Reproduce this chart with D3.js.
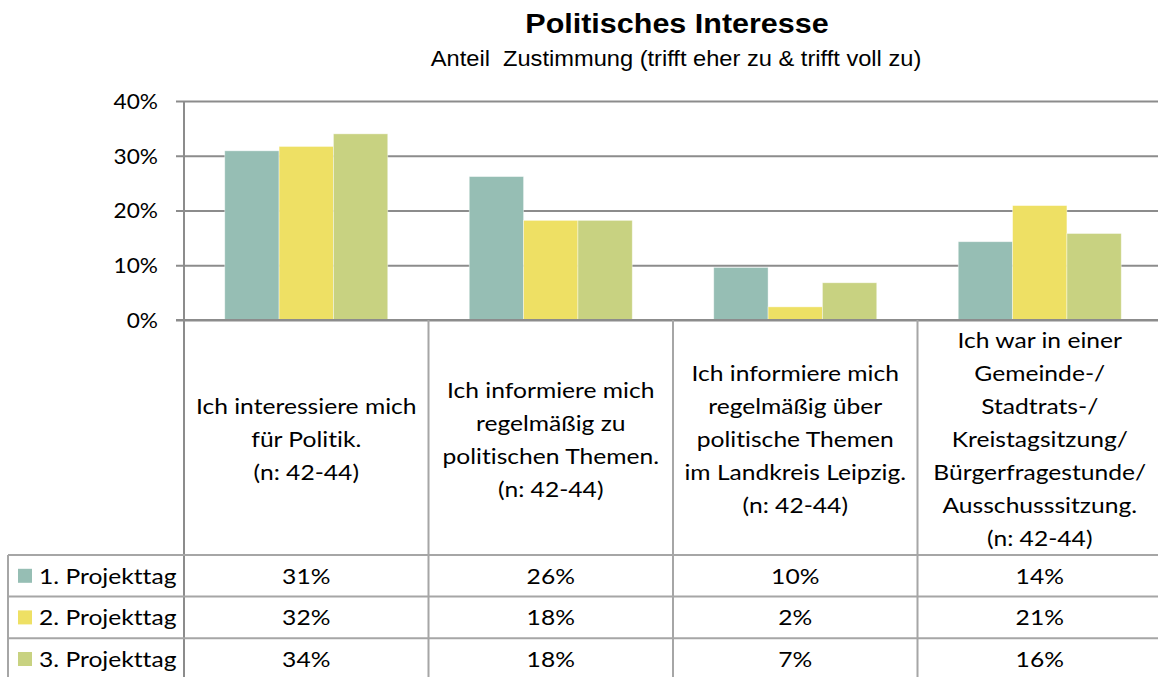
<!DOCTYPE html>
<html>
<head>
<meta charset="utf-8">
<script src="https://cdn.jsdelivr.net/npm/d3@7"></script>
<style>
  body { margin: 0; background: #fff; }
  svg { display: block; }
  text { font-variant-ligatures: none; }
  .cell { font-family: Lato, "Open Sans", sans-serif; font-size: 22px; fill: #000; }
  .tick text { font-family: Lato, "Open Sans", sans-serif; font-size: 21px; fill: #000; }
</style>
</head>
<body>
<div class="chart"></div>
<script>
var categories = [
      ["Ich interessiere mich", "für Politik.", "(n: 42-44)"],
      ["Ich informiere mich", "regelmäßig zu", "politischen Themen.", "(n: 42-44)"],
      ["Ich informiere mich", "regelmäßig über", "politische Themen", "im Landkreis Leipzig.", "(n: 42-44)"],
      ["Ich war in einer", "Gemeinde-/", "Stadtrats-/", "Kreistagsitzung/", "Bürgerfragestunde/", "Ausschusssitzung.", "(n: 42-44)"]
    ],
    seriesNames = ["1. Projekttag", "2. Projekttag", "3. Projekttag"],
    day1 = [0.309, 0.262, 0.096, 0.143],
    day2 = [0.317, 0.182, 0.024, 0.209],
    day3 = [0.340, 0.182, 0.068, 0.158],
    yTicks = [0, 0.1, 0.2, 0.3, 0.4];

var seriesValues = [day1, day2, day3];

var outerWidth = 1158,
    outerHeight = 677,
    plot = {left: 184, right: 1162, top: 101, bottom: 320},
    tableLeft = 8,
    headerBottom = 555,
    rowHeight = 41.6,
    sx = 1.12,   // the source looks a little wide, stretch text to match
    lineColor = "#a6a6a6",
    gridColor = "#8c8c8c",
    pct = d3.format(".0%"),
    color = d3.scaleOrdinal().domain(seriesNames).range(["#96beb4", "#eee064", "#c8d281"]);

var x0 = d3.scaleBand()
    .domain(d3.range(categories.length))
    .range([plot.left, plot.right]);

var x1 = d3.scaleBand()
    .domain(seriesNames)
    .range([0, x0.bandwidth()])
    .paddingOuter(0.75);

var yScale = d3.scaleLinear()
    .domain([0, 0.4])
    .range([plot.bottom, plot.top]);

var svg = d3.select(".chart").append("svg")
    .attr("width", outerWidth)
    .attr("height", outerHeight);

function place(x, y, s) {
    return "translate(" + x + "," + y + ") scale(" + s + ",1)";
}

// Titles
svg.append("text")
    .attr("transform", place(677, 33, 1.13))
    .attr("text-anchor", "middle")
    .style("font-family", "'Liberation Sans', Arial, sans-serif")
    .style("font-weight", "bold")
    .style("font-size", "27px")
    .text("Politisches Interesse");

svg.append("text")
    .attr("transform", place(676, 66, 1.1))
    .attr("text-anchor", "middle")
    .attr("xml:space", "preserve")
    .style("white-space", "pre")
    .style("font-family", "'Liberation Sans', Arial, sans-serif")
    .style("font-size", "21.5px")
    .text("Anteil  Zustimmung (trifft eher zu & trifft voll zu)");

// Y axis with gridlines
var yAxis = d3.axisLeft(yScale)
    .tickValues(yTicks)
    .tickFormat(pct)
    .tickSize(0);

var yG = svg.append("g")
    .attr("class", "yAxis")
    .attr("transform", "translate(" + plot.left + ",0)")
    .call(yAxis);
yG.select(".domain").remove();
yG.selectAll(".tick line")
    .attr("x1", -8)
    .attr("x2", plot.right - plot.left)
    .style("stroke", gridColor)
    .style("stroke-width", 2);
yG.selectAll(".tick text")
    .attr("x", null)
    .attr("dy", "0.35em")
    .attr("transform", "translate(-26,0) scale(1.08,1)");

// Bars
var groups = svg.selectAll(".cat")
    .data(categories)
    .enter().append("g")
    .attr("class", "cat")
    .attr("transform", function(d, i) { return "translate(" + x0(i) + ",0)"; });

groups.selectAll("rect")
    .data(function(d, i) {
        return seriesNames.map(function(s, j) { return {key: s, value: seriesValues[j][i]}; });
    })
    .enter().append("rect")
    .attr("x", function(d) { return x1(d.key); })
    .attr("width", x1.bandwidth())
    .attr("y", function(d) { return yScale(d.value); })
    .attr("height", function(d) { return yScale(0) - yScale(d.value); })
    .style("fill", function(d) { return color(d.key); })
    .style("stroke", "#ffffff")
    .style("stroke-opacity", 0.5)
    .style("stroke-width", 0.8);

// baseline on top of the bars
svg.append("line")
    .attr("x1", plot.left - 8).attr("x2", outerWidth)
    .attr("y1", yScale(0)).attr("y2", yScale(0))
    .style("stroke", gridColor).style("stroke-width", 2);

// Data table
var table = svg.append("g").attr("class", "table");

table.append("line")
    .attr("x1", plot.left).attr("x2", plot.left)
    .attr("y1", plot.top).attr("y2", outerHeight + 5)
    .style("stroke", gridColor).style("stroke-width", 2);

table.selectAll(".vline")
    .data(d3.range(1, categories.length))
    .enter().append("line")
    .attr("class", "vline")
    .attr("x1", function(i) { return x0(i); })
    .attr("x2", function(i) { return x0(i); })
    .attr("y1", plot.bottom).attr("y2", outerHeight + 5)
    .style("stroke", lineColor).style("stroke-width", 2);

table.append("line")
    .attr("x1", tableLeft).attr("x2", tableLeft)
    .attr("y1", headerBottom).attr("y2", outerHeight + 5)
    .style("stroke", lineColor).style("stroke-width", 2);

table.selectAll(".hline")
    .data(d3.range(seriesNames.length + 1))
    .enter().append("line")
    .attr("class", "hline")
    .attr("x1", tableLeft).attr("x2", outerWidth)
    .attr("y1", function(i) { return headerBottom + i * rowHeight; })
    .attr("y2", function(i) { return headerBottom + i * rowHeight; })
    .style("stroke", lineColor).style("stroke-width", 2);

// category labels
var lineH = 33;
table.selectAll(".catLabel")
    .data(categories)
    .enter().append("text")
    .attr("class", "cell catLabel")
    .attr("text-anchor", "middle")
    .attr("transform", function(d, i) {
        var cy = (plot.bottom + headerBottom) / 2 + 2;
        return place(x0(i) + x0.bandwidth() / 2, cy - (d.length - 1) * lineH / 2, sx);
    })
    .selectAll("tspan")
    .data(function(d) { return d; })
    .enter().append("tspan")
    .attr("x", 0)
    .attr("y", function(d, k) { return k * lineH; })
    .attr("dy", "0.35em")
    .text(function(d) { return d; });

// rows
var rows = table.selectAll(".row")
    .data(seriesNames)
    .enter().append("g")
    .attr("class", "row")
    .attr("transform", function(d, j) { return "translate(0," + (headerBottom + j * rowHeight + rowHeight / 2) + ")"; });

rows.append("rect")
    .attr("x", 18).attr("y", -7)
    .attr("width", 14).attr("height", 14)
    .style("fill", function(d) { return color(d); });

rows.append("text")
    .attr("class", "cell")
    .attr("transform", place(39, 0, sx))
    .attr("dy", "0.35em")
    .text(function(d) { return d; });

rows.selectAll(".val")
    .data(function(d, j) { return seriesValues[j]; })
    .enter().append("text")
    .attr("class", "cell val")
    .attr("text-anchor", "middle")
    .attr("transform", function(d, i) { return place(x0(i) + x0.bandwidth() / 2, 0, sx); })
    .attr("dy", "0.35em")
    .text(function(d) { return pct(d); });
</script>
</body>
</html>
